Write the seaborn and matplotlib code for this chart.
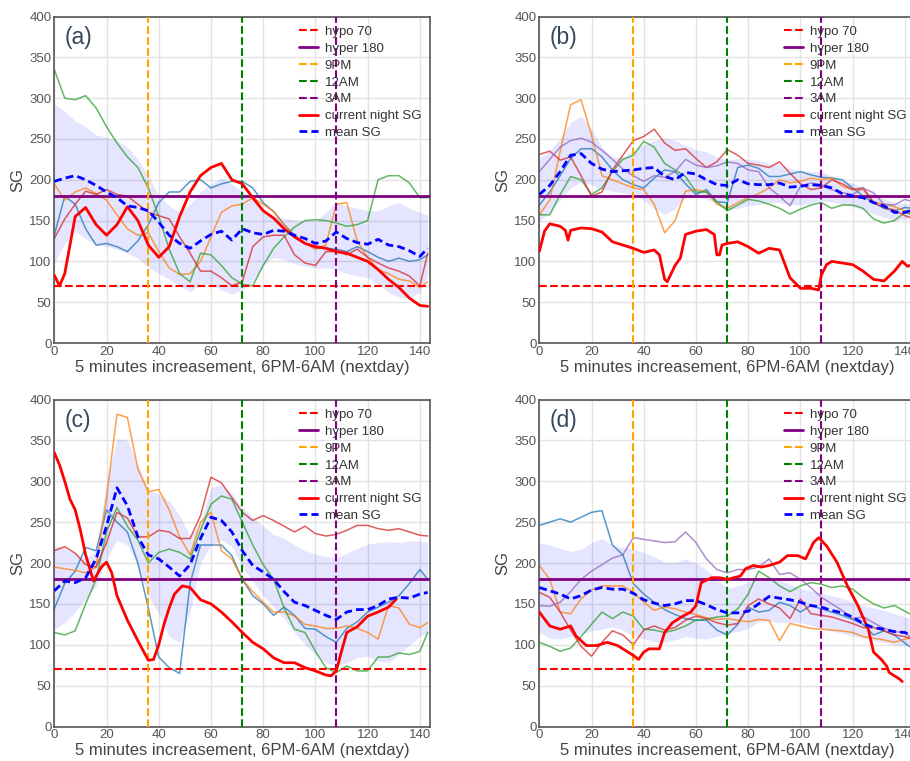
import matplotlib
matplotlib.use("Agg")
import matplotlib.pyplot as plt
import seaborn as sns

# ---------------- data ----------------
T = [0, 4, 8, 12, 16, 20, 24, 28, 32, 36, 40, 44, 48, 52, 56, 60, 64, 68, 72, 76,
     80, 84, 88, 92, 96, 100, 104, 108, 112, 116, 120, 124, 128, 132, 136, 140, 143]

# panel (a)
A_BLUE = [132, 180, 170, 140, 120, 122, 118, 112, 125, 145, 172, 185, 185, 198, 200, 190, 195, 198, 198, 190,
          172, 161, 145, 132, 122, 116, 116, 115, 112, 118, 112, 105, 100, 104, 100, 102, 108]
A_ORANGE = [195, 175, 185, 190, 183, 175, 157, 140, 132, 135, 112, 92, 84, 85, 100, 130, 160, 168, 170, 178,
            170, 161, 145, 132, 122, 115, 120, 170, 172, 125, 105, 90, 85, 78, 76, 68, 75]
A_GREEN = [335, 300, 298, 303, 288, 265, 245, 228, 215, 190, 155, 115, 85, 75, 110, 108, 95, 80, 72, 70,
           95, 116, 130, 142, 150, 151, 150, 147, 143, 145, 150, 200, 205, 205, 196, 178, 178]
A_BRICK = [128, 152, 170, 186, 182, 188, 182, 180, 170, 160, 156, 152, 130, 110, 88, 88, 80, 70, 75, 118,
           130, 132, 132, 108, 98, 95, 112, 112, 108, 115, 105, 98, 92, 88, 82, 70, 110]
A_MEAN = [198, 202, 205, 200, 193, 185, 178, 168, 166, 162, 148, 132, 122, 116, 125, 133, 137, 126, 140, 135,
          133, 138, 137, 132, 128, 122, 125, 136, 128, 123, 121, 127, 120, 118, 113, 106, 116]
A_UPPER = [292, 284, 272, 265, 255, 252, 248, 240, 225, 205, 180, 168, 160, 170, 185, 195, 202, 195, 185, 178,
           160, 155, 153, 151, 150, 150, 160, 172, 168, 165, 162, 162, 168, 172, 165, 160, 157]
A_LOWER = [98, 122, 137, 128, 120, 118, 115, 110, 104, 92, 85, 78, 70, 63, 72, 72, 65, 60, 65, 75,
           95, 105, 102, 97, 94, 92, 92, 90, 85, 82, 80, 72, 62, 56, 55, 62, 83]
A_CUR_X = [0, 2, 4, 8, 12, 16, 20, 24, 28, 32, 36, 40, 44, 48, 52, 56, 60, 64, 68, 72,
           76, 80, 84, 88, 92, 96, 100, 104, 108, 112, 116, 120, 124, 128, 132, 136, 140, 143]
A_CUR_Y = [83, 70, 85, 155, 166, 145, 132, 145, 167, 150, 120, 105, 118, 155, 185, 205, 215, 220, 200, 195,
           178, 162, 153, 140, 130, 122, 118, 116, 112, 110, 105, 100, 90, 78, 68, 55, 46, 45]

# panel (b)
B_BLUE = [169, 185, 205, 226, 238, 238, 228, 212, 200, 194, 190, 202, 212, 210, 195, 182, 188, 173, 172, 215,
          218, 214, 204, 204, 207, 210, 206, 203, 202, 200, 190, 180, 172, 165, 162, 166, 165]
B_ORANGE = [157, 175, 235, 292, 298, 255, 205, 200, 195, 190, 188, 170, 135, 150, 186, 188, 185, 170, 165, 172,
            178, 183, 190, 200, 196, 198, 202, 200, 202, 192, 188, 188, 173, 170, 167, 162, 157]
B_GREEN = [157, 157, 182, 204, 200, 182, 190, 210, 225, 230, 247, 240, 220, 212, 204, 185, 185, 173, 162, 169,
           176, 174, 170, 165, 158, 164, 169, 172, 165, 169, 169, 165, 152, 147, 150, 160, 157]
B_BRICK = [231, 235, 224, 228, 205, 180, 185, 212, 230, 248, 253, 262, 245, 236, 238, 226, 215, 222, 237, 230,
           220, 218, 215, 222, 208, 195, 188, 190, 200, 195, 188, 190, 172, 166, 163, 156, 153]
B_PURPLE = [210, 225, 240, 248, 251, 246, 236, 225, 213, 205, 198, 205, 203, 210, 225, 218, 215, 217, 222, 220,
            212, 210, 190, 180, 168, 192, 196, 194, 188, 184, 182, 190, 184, 170, 169, 176, 173]
B_MEAN = [182, 193, 210, 230, 232, 220, 213, 210, 211, 212, 214, 215, 204, 200, 209, 207, 200, 194, 193, 200,
          195, 194, 194, 196, 191, 192, 194, 193, 190, 183, 180, 178, 172, 168, 160, 160, 163]
B_UPPER = [226, 236, 250, 270, 278, 262, 240, 228, 228, 235, 243, 248, 251, 248, 242, 237, 234, 228, 224, 226,
           225, 224, 220, 218, 214, 211, 210, 210, 205, 199, 196, 190, 182, 177, 172, 171, 170]
B_LOWER = [149, 160, 175, 190, 197, 194, 188, 186, 184, 181, 175, 165, 157, 165, 178, 180, 176, 172, 163, 165,
           168, 170, 172, 172, 170, 169, 171, 174, 173, 170, 167, 163, 158, 154, 150, 152, 153]
B_CUR_X = [0, 2, 4, 8, 10, 11, 12, 16, 20, 24, 28, 32, 36, 40, 44, 46, 48, 49, 52, 54,
           56, 60, 64, 67, 68, 69, 70, 72, 76, 80, 84, 88, 92, 96, 100, 104, 107, 108, 110, 112,
           116, 120, 124, 128, 132, 136, 139, 141, 143]
B_CUR_Y = [112, 137, 146, 143, 138, 126, 138, 141, 140, 136, 124, 120, 116, 111, 114, 108, 78, 75, 95, 104,
           133, 137, 139, 133, 108, 108, 120, 122, 124, 118, 110, 116, 114, 80, 67, 67, 65, 83, 96, 100,
           98, 96, 88, 78, 76, 88, 100, 94, 96]

# panel (c)
C_BLUE = [144, 175, 190, 219, 215, 265, 250, 238, 200, 145, 85, 72, 65, 175, 222, 222, 222, 209, 180, 160,
          150, 136, 146, 136, 120, 119, 110, 103, 120, 128, 140, 146, 152, 160, 175, 192, 180]
C_ORANGE = [195, 193, 191, 188, 195, 280, 382, 378, 315, 287, 290, 265, 232, 210, 250, 262, 215, 205, 180, 165,
            152, 140, 140, 135, 125, 123, 120, 120, 123, 120, 115, 107, 148, 145, 125, 121, 127]
C_GREEN = [115, 112, 117, 150, 180, 238, 268, 245, 228, 200, 213, 217, 213, 205, 240, 272, 282, 278, 250, 222,
           198, 180, 145, 119, 115, 92, 72, 66, 74, 68, 68, 85, 85, 90, 88, 92, 115]
C_BRICK = [215, 220, 212, 198, 195, 225, 262, 255, 232, 232, 240, 238, 230, 230, 258, 305, 298, 280, 262, 252,
           258, 252, 245, 238, 245, 236, 233, 235, 240, 246, 246, 242, 240, 242, 238, 234, 233]
C_MEAN = [166, 178, 176, 182, 205, 245, 292, 270, 232, 210, 205, 195, 184, 198, 230, 256, 252, 238, 215, 197,
          189, 180, 165, 152, 148, 142, 136, 131, 140, 143, 143, 148, 156, 158, 157, 162, 164]
C_UPPER = [221, 218, 212, 205, 215, 300, 352, 350, 320, 290, 284, 276, 258, 233, 250, 292, 296, 285, 268, 256,
           245, 235, 230, 222, 215, 211, 208, 206, 212, 218, 223, 225, 226, 225, 227, 227, 225]
C_LOWER = [119, 127, 140, 156, 172, 205, 228, 222, 195, 160, 138, 110, 103, 140, 200, 222, 228, 220, 195, 178,
           160, 146, 132, 115, 100, 88, 78, 75, 78, 84, 86, 80, 78, 88, 100, 110, 115]
C_CUR_X = [0, 2, 4, 6, 8, 10, 12, 15, 18, 20, 22, 24, 28, 32, 36, 38, 40, 42, 44, 46,
           49, 52, 56, 60, 64, 68, 72, 76, 80, 84, 88, 92, 96, 100, 104, 106, 108, 110, 112, 116,
           120, 124, 128, 131]
C_CUR_Y = [335, 320, 300, 278, 265, 240, 210, 178, 195, 201, 188, 160, 130, 105, 81, 82, 100, 125, 145, 162,
           172, 170, 155, 150, 140, 128, 115, 103, 95, 84, 78, 78, 72, 68, 63, 62, 68, 92, 115, 122,
           135, 140, 146, 156]

# panel (d)
D_BLUE = [246, 250, 254, 250, 256, 262, 264, 222, 210, 175, 162, 152, 143, 137, 132, 130, 130, 118, 112, 125,
          146, 140, 142, 152, 148, 140, 148, 144, 140, 136, 131, 125, 112, 117, 112, 102, 95]
D_ORANGE = [197, 180, 140, 138, 156, 167, 172, 172, 172, 164, 152, 142, 146, 144, 140, 137, 133, 131, 132, 130,
            128, 131, 130, 105, 126, 123, 120, 119, 118, 117, 115, 110, 108, 106, 103, 107, 108]
D_GREEN = [103, 98, 92, 96, 110, 125, 140, 132, 140, 135, 119, 118, 115, 118, 123, 130, 131, 134, 135, 144,
           162, 190, 182, 172, 165, 172, 176, 174, 170, 172, 168, 158, 150, 145, 148, 141, 136]
D_BRICK = [164, 158, 140, 118, 98, 86, 103, 117, 112, 100, 118, 123, 118, 121, 130, 135, 132, 127, 124, 126,
           148, 156, 150, 145, 132, 156, 138, 136, 134, 130, 126, 121, 121, 117, 112, 110, 107]
D_PURPLE = [148, 147, 152, 165, 180, 190, 198, 206, 210, 231, 229, 227, 225, 226, 238, 225, 205, 192, 188, 192,
            192, 195, 205, 186, 188, 180, 170, 158, 150, 142, 132, 134, 127, 120, 116, 115, 107]
D_MEAN = [170, 166, 162, 156, 160, 167, 170, 168, 168, 163, 155, 151, 148, 150, 154, 154, 149, 143, 139, 139,
          141, 150, 159, 157, 155, 152, 148, 146, 142, 139, 134, 126, 121, 119, 116, 115, 111]
D_UPPER = [225, 222, 218, 214, 217, 225, 230, 222, 219, 217, 213, 208, 201, 201, 205, 200, 192, 180, 169, 172,
           177, 180, 180, 179, 174, 169, 166, 163, 160, 157, 152, 148, 145, 142, 138, 134, 131]
D_LOWER = [115, 108, 107, 110, 113, 117, 119, 122, 118, 111, 107, 104, 103, 106, 110, 108, 107, 110, 114, 116,
           120, 128, 129, 127, 127, 127, 124, 120, 117, 114, 111, 108, 105, 103, 100, 99, 99]
D_CUR_X = [0, 4, 8, 12, 14, 18, 22, 26, 30, 34, 36, 38, 40, 42, 46, 48, 51, 55, 58, 60,
           62, 66, 69, 72, 77, 79, 82, 85, 88, 92, 95, 99, 102, 105, 107, 110, 114, 118, 122, 126,
           128, 131, 133, 134, 138, 139]
D_CUR_Y = [140, 123, 119, 123, 111, 99, 99, 103, 99, 91, 87, 82, 91, 95, 95, 115, 127, 135, 140, 148,
           176, 182, 182, 180, 184, 193, 197, 195, 197, 201, 209, 209, 205, 225, 231, 221, 201, 172, 148, 119,
           91, 82, 74, 66, 58, 55]

PANEL_LABELS = ["(a)", "(b)", "(c)", "(d)"]
HISTORY = [
    [A_BLUE, A_ORANGE, A_GREEN, A_BRICK],
    [B_BLUE, B_ORANGE, B_GREEN, B_BRICK, B_PURPLE],
    [C_BLUE, C_ORANGE, C_GREEN, C_BRICK],
    [D_BLUE, D_ORANGE, D_GREEN, D_BRICK, D_PURPLE],
]
MEANS = [A_MEAN, B_MEAN, C_MEAN, D_MEAN]
UPPERS = [A_UPPER, B_UPPER, C_UPPER, D_UPPER]
LOWERS = [A_LOWER, B_LOWER, C_LOWER, D_LOWER]
CURRENT = [(A_CUR_X, A_CUR_Y), (B_CUR_X, B_CUR_Y), (C_CUR_X, C_CUR_Y), (D_CUR_X, D_CUR_Y)]
HYPO, HYPER = 70, 180
MARKS = [(36, "9PM", "orange"), (72, "12AM", "green"), (108, "3AM", "purple")]
X_TICKS = [0, 20, 40, 60, 80, 100, 120, 140]
Y_TICKS = [0, 50, 100, 150, 200, 250, 300, 350, 400]

# ---------------- style ----------------
sns.set_theme(style="whitegrid")
plt.rcParams["font.family"] = ["Liberation Sans", "DejaVu Sans"]

W, H = 910, 761
fig = plt.figure(figsize=(W / 100, H / 100), dpi=100)
hist_colors = ["tab:blue", "tab:orange", "tab:green", "tab:red", "tab:purple"]

# (left px, top px, width px, height px)
boxes = [(54.3, 16.5, 376, 326.5), (539.3, 16.5, 376, 326.5),
         (54.3, 399.5, 376, 327), (539.3, 399.5, 376, 327)]

for i, (l, t, w, h) in enumerate(boxes):
    ax = fig.add_axes([l / W, 1 - (t + h) / H, w / W, h / H])
    ax.fill_between(T, LOWERS[i], UPPERS[i], color="blue", alpha=0.1, lw=0, zorder=1)
    for c, y in zip(hist_colors, HISTORY[i]):
        sns.lineplot(x=T, y=y, ax=ax, color=c, lw=1.1, alpha=0.75, zorder=2)
    ax.axhline(HYPO, color="red", ls="--", lw=1.5, label="hypo 70", zorder=3)
    ax.axhline(HYPER, color="purple", ls="-", lw=2, label="hyper 180", zorder=3)
    for xv, lab, col in MARKS:
        ax.axvline(xv, color=col, ls="--", lw=1.5, label=lab, zorder=3)
    cx, cy = CURRENT[i]
    sns.lineplot(x=cx, y=cy, ax=ax, color="red", lw=2, label="current night SG", zorder=4)
    sns.lineplot(x=T, y=MEANS[i], ax=ax, color="blue", lw=2, linestyle=(0, (2.8, 1.5)),
                 label="mean SG", zorder=5)

    ax.set_xlim(0, 144)
    ax.set_ylim(0, 400)
    ax.set_xticks(X_TICKS)
    ax.set_yticks(Y_TICKS)
    ax.tick_params(labelsize=9.5, labelcolor="#555555", length=0, pad=2)
    ax.grid(True, color="#e3e3e3", lw=1)
    for s in ax.spines.values():
        s.set_color("#555555")
        s.set_linewidth(1.2)
    ax.set_xlabel("5 minutes increasement, 6PM-6AM (nextday)", fontsize=12, color="#444444", labelpad=1.5)
    ax.set_ylabel("SG", fontsize=12, color="#444444", labelpad=3)
    ax.text(0.028, 0.935, PANEL_LABELS[i], transform=ax.transAxes, fontsize=16.5,
            color="#34495e", ha="left", va="center")
    leg = ax.legend(loc="upper right", frameon=False, fontsize=9.5, labelspacing=0.35,
                    handlelength=1.4, handletextpad=0.5, borderaxespad=0.3)
    for txt in leg.get_texts():
        txt.set_color("#333333")

fig.savefig("out.png", dpi=100)
